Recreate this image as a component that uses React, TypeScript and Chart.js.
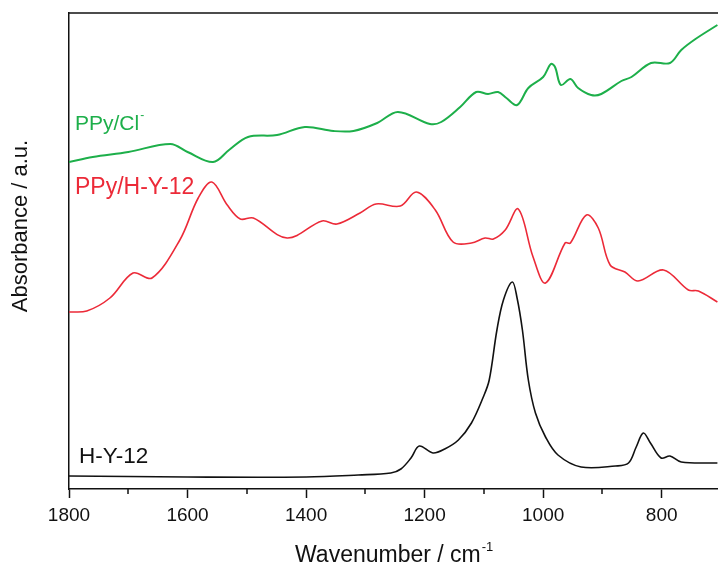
import React, { useEffect, useRef } from "react";
import { Chart, registerables } from "chart.js";

Chart.register(...registerables);

// Wavenumber (cm^-1) and absorbance (a.u., offset traces)
const GREEN_WN = [1800, 1760, 1700, 1629, 1600, 1557, 1530, 1498, 1449, 1402, 1354, 1320, 1280, 1245, 1191, 1172, 1140, 1113, 1093, 1076, 1062, 1044, 1025, 1000, 987, 980, 970, 954, 941, 919, 902, 868, 851, 818, 786, 767, 743, 706];
const GREEN_ABS = [3.27, 3.32, 3.37, 3.45, 3.37, 3.27, 3.39, 3.52, 3.54, 3.62, 3.58, 3.58, 3.66, 3.77, 3.65, 3.67, 3.82, 3.97, 3.95, 3.97, 3.91, 3.84, 4.01, 4.12, 4.25, 4.22, 4.04, 4.10, 4.01, 3.94, 3.95, 4.08, 4.12, 4.26, 4.26, 4.39, 4.50, 4.64];

const RED_WN = [1800, 1770, 1731, 1692, 1660, 1613, 1582, 1559, 1533, 1511, 1489, 1432, 1373, 1348, 1309, 1282, 1241, 1214, 1182, 1152, 1121, 1098, 1084, 1064, 1042, 1017, 996, 963, 954, 927, 907, 887, 862, 840, 797, 755, 738, 706];
const RED_ABS = [1.77, 1.78, 1.91, 2.16, 2.11, 2.49, 2.91, 3.07, 2.84, 2.70, 2.71, 2.51, 2.68, 2.65, 2.76, 2.85, 2.83, 2.97, 2.79, 2.47, 2.46, 2.51, 2.50, 2.59, 2.80, 2.32, 2.06, 2.46, 2.46, 2.74, 2.61, 2.24, 2.17, 2.08, 2.19, 1.99, 1.98, 1.87];

const BLACK_WN = [1800, 1600, 1400, 1312, 1257, 1240, 1223, 1209, 1186, 1166, 1143, 1121, 1101, 1091, 1078, 1067, 1052, 1044, 1035, 1025, 1013, 996, 975, 936, 878, 856, 843, 831, 819, 801, 786, 767, 706];
const BLACK_ABS = [0.13, 0.12, 0.12, 0.14, 0.16, 0.20, 0.31, 0.43, 0.36, 0.40, 0.49, 0.66, 0.92, 1.09, 1.59, 1.89, 2.07, 1.91, 1.59, 1.09, 0.76, 0.52, 0.34, 0.22, 0.23, 0.26, 0.42, 0.56, 0.46, 0.31, 0.33, 0.27, 0.26];

const X_MAJOR_TICKS = [1800, 1600, 1400, 1200, 1000, 800];
const X_MINOR_TICKS = [1700, 1500, 1300, 1100, 900];
const X_MIN = 705;
const X_MAX = 1800;
const Y_MIN = 0;
const Y_MAX = 4.76;

const GREEN = "#1daf4a";
const RED = "#ec2a38";
const BLACK = "#111";
const FONT = "'Liberation Sans', Arial, Helvetica, sans-serif";

const toPoints = (xs: number[], ys: number[]) => xs.map((x, i) => ({ x, y: ys[i] }));

const decorPlugin = {
  id: "decor",
  afterDraw(chart: any) {
    const ctx = chart.ctx;
    const area = chart.chartArea;
    const xs = chart.scales.x;
    ctx.save();
    // top frame line
    ctx.strokeStyle = BLACK;
    ctx.lineWidth = 1.5;
    ctx.beginPath();
    ctx.moveTo(area.left, area.top);
    ctx.lineTo(area.right, area.top);
    ctx.stroke();
    // minor ticks
    X_MINOR_TICKS.forEach((v) => {
      const px = Math.round(xs.getPixelForValue(v));
      ctx.beginPath();
      ctx.moveTo(px, area.bottom);
      ctx.lineTo(px, area.bottom + 5);
      ctx.stroke();
    });

    ctx.fillStyle = BLACK;
    ctx.textBaseline = "alphabetic";
    // y title
    ctx.save();
    ctx.translate(27, 226);
    ctx.rotate(-Math.PI / 2);
    ctx.textAlign = "center";
    ctx.font = `22px ${FONT}`;
    ctx.fillText("Absorbance / a.u.", 0, 0);
    ctx.restore();

    // x title
    ctx.textAlign = "left";
    ctx.font = `23px ${FONT}`;
    const xt = "Wavenumber / cm";
    ctx.fillText(xt, 295, 562);
    const w = ctx.measureText(xt).width;
    ctx.font = `13px ${FONT}`;
    ctx.fillText("-1", 295 + w + 1, 551);

    // series labels
    ctx.font = `21px ${FONT}`;
    ctx.fillStyle = GREEN;
    ctx.fillText("PPy/Cl", 75, 130);
    const w2 = ctx.measureText("PPy/Cl").width;
    ctx.font = `12px ${FONT}`;
    ctx.fillText("-", 75 + w2 + 1, 119);

    ctx.font = `23px ${FONT}`;
    ctx.fillStyle = RED;
    ctx.fillText("PPy/H-Y-12", 75, 194);

    ctx.font = `22.5px ${FONT}`;
    ctx.fillStyle = BLACK;
    ctx.fillText("H-Y-12", 79, 463);
    ctx.restore();
  },
};

export default function App() {
  const ref = useRef<HTMLCanvasElement | null>(null);

  useEffect(() => {
    if (!ref.current) return;
    const chart = new Chart(ref.current, {
      type: "line",
      data: {
        datasets: [
          {
            label: "PPy/Cl-",
            data: toPoints(GREEN_WN, GREEN_ABS),
            borderColor: GREEN,
            borderWidth: 2,
            pointRadius: 0,
            tension: 0.35,
            fill: false,
          },
          {
            label: "PPy/H-Y-12",
            data: toPoints(RED_WN, RED_ABS),
            borderColor: RED,
            borderWidth: 1.6,
            pointRadius: 0,
            tension: 0.35,
            fill: false,
          },
          {
            label: "H-Y-12",
            data: toPoints(BLACK_WN, BLACK_ABS),
            borderColor: BLACK,
            borderWidth: 1.6,
            pointRadius: 0,
            tension: 0.35,
            fill: false,
          },
        ],
      },
      options: {
        responsive: false,
        animation: false,
        devicePixelRatio: 1,
        layout: { padding: { top: 13, right: 0, left: 0, bottom: 0 } },
        plugins: { legend: { display: false }, tooltip: { enabled: false } },
        scales: {
          x: {
            type: "linear",
            reverse: true,
            min: X_MIN,
            max: X_MAX,
            position: "bottom",
            afterBuildTicks: (scale: any) => {
              scale.ticks = X_MAJOR_TICKS.map((v) => ({ value: v }));
            },
            afterFit: (scale: any) => {
              scale.height = 76;
            },
            ticks: {
              color: BLACK,
              font: { family: FONT, size: 19 },
              padding: 6,
              maxRotation: 0,
              autoSkip: false,
              callback: (v: any) => String(v),
            },
            grid: {
              display: true,
              drawOnChartArea: false,
              drawTicks: true,
              tickLength: 9,
              tickColor: BLACK,
              tickWidth: 1.5,
            },
            border: { display: true, color: BLACK, width: 1.5 },
          },
          y: {
            min: Y_MIN,
            max: Y_MAX,
            afterFit: (scale: any) => {
              scale.width = 69;
            },
            ticks: { display: false },
            grid: { display: false },
            border: { display: true, color: BLACK, width: 1.5 },
          },
        },
      },
      plugins: [decorPlugin],
    });
    return () => chart.destroy();
  }, []);

  return (
    <div style={{ position: "absolute", left: 0, top: 0, width: 718, height: 565, background: "#fff" }}>
      <canvas ref={ref} width={718} height={565} />
    </div>
  );
}
